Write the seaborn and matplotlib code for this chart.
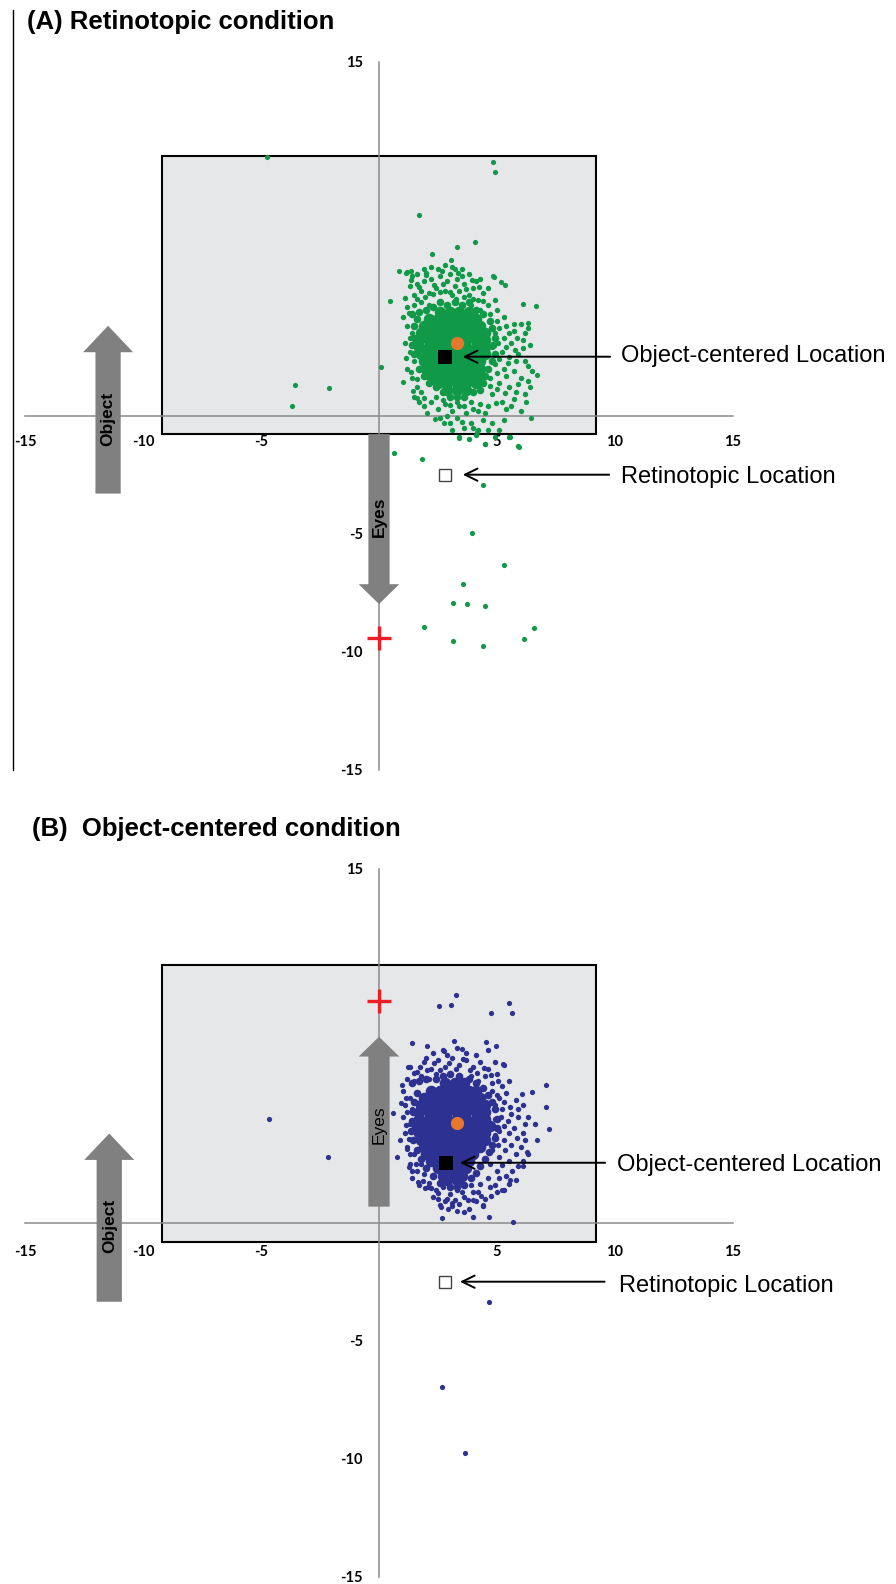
import numpy as np
import matplotlib
matplotlib.use("Agg")
import matplotlib.pyplot as plt
import seaborn as sns
from matplotlib.patches import Rectangle
from matplotlib.lines import Line2D

sns.set_style("white")
plt.rcParams['font.family'] = ['Liberation Sans', 'DejaVu Sans']
plt.rcParams['axes.unicode_minus'] = False
plt.rcParams['text.color'] = 'black'
plt.rcParams['xtick.color'] = 'black'
plt.rcParams['ytick.color'] = 'black'

# ---------------- data (degrees) ----------------
ticks = [-15, -10, -5, 5, 10, 15]
tick_labels = ["-15", "-10", "-5", "5", "10", "15"]

# panel A: retinotopic condition (green)
a_core = np.array([
    (2.6, 4.4), (3.0, 4.4), (3.4, 4.4), (3.8, 4.4),
    (2.1, 4.1), (2.5, 4.1), (2.9, 4.1), (3.3, 4.1), (3.7, 4.1), (4.1, 4.1),
    (1.9, 3.8), (2.3, 3.8), (2.7, 3.8), (3.1, 3.8), (3.5, 3.8), (3.9, 3.8), (4.3, 3.8),
    (1.8, 3.5), (2.2, 3.5), (2.6, 3.5), (3.0, 3.5), (3.4, 3.5), (3.8, 3.5), (4.2, 3.5), (4.5, 3.5),
    (1.7, 3.2), (2.1, 3.2), (2.5, 3.2), (2.9, 3.2), (3.3, 3.2), (3.7, 3.2), (4.1, 3.2), (4.5, 3.2),
    (1.7, 2.9), (2.1, 2.9), (2.5, 2.9), (2.9, 2.9), (3.3, 2.9), (3.7, 2.9), (4.1, 2.9), (4.5, 2.9),
    (1.8, 2.6), (2.2, 2.6), (2.6, 2.6), (3.0, 2.6), (3.4, 2.6), (3.8, 2.6), (4.2, 2.6), (4.5, 2.6),
    (1.9, 2.3), (2.3, 2.3), (2.7, 2.3), (3.1, 2.3), (3.5, 2.3), (3.9, 2.3), (4.3, 2.3),
    (2.0, 2.0), (2.4, 2.0), (2.8, 2.0), (3.2, 2.0), (3.6, 2.0), (4.0, 2.0), (4.3, 2.0),
    (2.2, 1.7), (2.6, 1.7), (3.0, 1.7), (3.4, 1.7), (3.8, 1.7), (4.2, 1.7),
    (2.5, 1.4), (2.9, 1.4), (3.3, 1.4), (3.7, 1.4), (4.1, 1.4),
    (2.9, 1.1), (3.3, 1.1), (3.7, 1.1),
])
a_ring = np.array([
    (1.4, 4.3), (1.7, 4.4), (2.0, 4.5), (2.3, 4.6), (2.6, 4.8), (2.9, 4.7), (3.2, 4.8), (3.5, 4.7),
    (3.8, 4.8), (4.1, 4.5), (4.4, 4.3), (4.7, 4.0), (4.8, 3.7), (4.9, 3.3), (4.85, 3.0), (4.9, 2.6),
    (4.8, 2.3), (4.6, 2.0), (4.5, 1.7), (4.4, 1.4), (4.3, 1.1), (4.0, 1.0), (3.6, 0.8), (3.3, 0.8),
    (3.0, 0.8), (2.7, 1.0), (2.4, 1.2), (2.1, 1.4), (1.9, 1.7), (1.7, 2.0), (1.5, 2.6), (1.4, 3.0),
    (1.5, 3.3), (1.5, 3.8), (1.6, 4.1),
])
a_halo = np.array([
    (1.2, 6.1), (1.4, 5.9), (1.6, 6.0), (1.9, 6.2), (2.2, 6.3), (2.5, 6.2), (2.8, 6.4), (3.1, 6.3),
    (3.5, 6.2), (3.8, 6.0), (4.1, 5.7), (4.3, 5.8),
    (1.3, 5.5), (1.6, 5.6), (1.9, 5.7), (2.2, 5.8), (2.6, 5.9), (2.9, 5.7), (3.3, 5.8), (3.6, 5.6),
    (4.0, 5.4), (4.4, 5.2), (4.6, 5.4),
    (1.1, 5.0), (1.5, 5.1), (1.8, 5.3), (2.1, 5.2), (2.4, 5.4), (2.8, 5.3), (3.1, 5.1), (3.4, 5.3),
    (3.8, 5.1), (4.2, 4.9), (4.6, 4.7), (4.9, 4.9),
    (1.2, 4.6), (1.5, 4.7), (1.8, 4.8), (2.1, 4.7), (3.9, 4.7), (4.3, 4.5), (4.7, 4.3), (5.0, 4.5), (5.3, 4.2),
    (1.35, 5.75), (1.7, 5.45), (2.0, 5.95), (2.35, 5.55), (2.7, 5.6), (3.0, 6.0), (3.2, 5.5), (3.5, 5.9),
    (3.7, 5.35), (3.95, 5.75), (4.25, 5.45), (1.6, 4.95), (1.95, 5.05), (2.3, 5.15), (2.6, 5.25),
    (3.0, 5.25), (3.25, 4.95), (3.6, 5.05), (4.0, 4.95), (4.4, 4.85), (2.0, 6.05), (2.65, 6.15), (3.35, 6.05),
    (5.0, 4.0), (5.4, 3.8), (5.7, 3.6), (6.0, 3.9), (6.3, 3.7), (4.9, 3.5), (5.3, 3.3), (5.6, 3.1),
    (6.1, 3.2), (6.4, 3.0), (4.8, 2.9), (5.2, 2.7), (5.5, 2.5), (5.9, 2.6), (6.2, 2.3), (4.9, 2.2),
    (5.3, 2.0), (5.7, 1.9), (6.0, 1.6), (6.5, 1.9), (4.7, 1.6), (5.1, 1.4), (5.5, 1.2), (5.8, 1.0),
    (6.2, 0.9), (4.8, 0.9), (5.2, 0.6), (5.6, 0.4), (6.0, 0.2),
    (5.1, 3.7), (5.5, 3.5), (5.85, 3.3), (6.2, 3.5), (5.05, 3.1), (5.4, 2.9), (5.75, 2.8), (6.1, 2.85),
    (5.1, 2.4), (5.45, 2.25), (5.8, 2.3), (6.3, 2.1), (5.0, 1.8), (5.4, 1.7), (5.9, 1.35), (6.3, 1.45),
    (5.0, 1.15), (5.35, 0.95), (5.7, 0.7), (4.95, 0.55), (5.4, 0.3), (4.7, 1.25),
    (2.2, 0.6), (2.5, 0.3), (2.8, 0.5), (3.1, 0.2), (3.4, 0.4), (3.7, 0.1), (4.0, 0.3), (4.3, 0.5),
    (4.5, 0.1), (2.6, -0.1), (3.0, -0.3), (3.3, -0.1), (3.6, -0.5), (3.9, -0.3), (4.2, -0.6),
    (4.4, -0.2), (4.8, -0.3), (5.1, -0.6), (3.4, -0.9), (3.8, -1.0), (4.1, -0.8), (4.5, -1.2),
    (5.5, -0.9), (5.9, -1.3),
    (2.4, 0.8), (2.7, 0.65), (3.0, 0.45), (3.3, 0.6), (3.6, 0.4), (3.9, 0.6), (4.2, 0.2), (4.6, 0.4),
    (2.9, 0.0), (3.5, -0.25), (4.0, -0.5), (4.6, -0.6), (5.3, -0.2), (3.1, -0.6), (4.9, -0.9),
    (1.0, 4.2), (1.2, 3.8), (1.4, 3.5), (1.1, 3.1), (1.3, 2.7), (1.5, 2.3), (1.2, 2.0), (1.4, 1.6),
    (1.6, 1.2), (1.5, 0.8), (1.8, 1.0), (1.7, 0.6), (1.9, 0.4),
    (1.25, 4.35), (1.3, 3.3), (1.15, 2.45), (1.35, 1.85), (1.6, 1.55), (1.9, 0.75),
])
a_outliers = np.array([
    (-4.76, 10.96), (4.82, 10.75), (4.93, 10.31), (1.70, 8.49), (3.29, 7.16), (4.08, 7.37),
    (2.23, 6.85), (3.04, 6.60), (0.86, 6.14), (1.14, 6.03), (1.34, 6.12), (3.23, 6.20),
    (4.82, 5.92), (4.89, 5.86), (5.16, 5.68), (5.34, 5.52), (6.11, 4.75), (6.65, 4.65),
    (6.30, 3.94), (5.72, 3.89), (6.71, 1.72), (6.40, 1.23), (6.23, 0.59), (6.45, -0.08),
    (0.47, 4.87), (0.07, 2.08), (-2.12, 1.19), (-3.56, 1.29), (-3.70, 0.42),
    (1.00, 1.44), (1.45, 1.06), (1.60, 0.74), (2.03, 0.10), (2.37, -0.15), (2.75, -0.32),
    (3.40, -0.93), (4.14, -0.68), (4.50, -1.20), (5.95, -1.31), (5.55, -0.92),
    (0.65, -1.59), (1.81, -1.85), (4.39, -2.95), (3.92, -4.96), (5.30, -6.34), (3.55, -7.15),
    (3.12, -7.92), (3.72, -7.99), (4.50, -8.05), (1.91, -8.97), (6.58, -9.01), (6.14, -9.46),
    (3.12, -9.53), (4.40, -9.74),
])
a_object_loc = (2.8, 2.5)
a_mean = (3.29, 3.09)
a_retino_loc = (2.8, -2.5)
a_fixation = (0.0, -9.43)

# panel B: object-centered condition (blue)
b_core = np.array([
    (2.8, 5.9), (3.2, 5.9), (3.6, 5.9),
    (2.2, 5.6), (2.6, 5.6), (3.0, 5.6), (3.4, 5.6), (3.8, 5.6), (4.1, 5.6),
    (1.9, 5.3), (2.3, 5.3), (2.7, 5.3), (3.1, 5.3), (3.5, 5.3), (3.9, 5.3), (4.3, 5.3),
    (1.8, 5.0), (2.2, 5.0), (2.6, 5.0), (3.0, 5.0), (3.4, 5.0), (3.8, 5.0), (4.2, 5.0), (4.5, 5.0),
    (1.7, 4.7), (2.1, 4.7), (2.5, 4.7), (2.9, 4.7), (3.3, 4.7), (3.7, 4.7), (4.1, 4.7), (4.5, 4.7),
    (1.7, 4.4), (2.1, 4.4), (2.5, 4.4), (2.9, 4.4), (3.3, 4.4), (3.7, 4.4), (4.1, 4.4), (4.5, 4.4),
    (1.6, 4.1), (2.0, 4.1), (2.4, 4.1), (2.8, 4.1), (3.2, 4.1), (3.6, 4.1), (4.0, 4.1), (4.4, 4.1), (4.7, 4.1),
    (1.7, 3.8), (2.1, 3.8), (2.5, 3.8), (2.9, 3.8), (3.3, 3.8), (3.7, 3.8), (4.1, 3.8), (4.5, 3.8),
    (1.8, 3.5), (2.2, 3.5), (2.6, 3.5), (3.0, 3.5), (3.4, 3.5), (3.8, 3.5), (4.2, 3.5), (4.5, 3.5),
    (1.9, 3.2), (2.3, 3.2), (2.7, 3.2), (3.1, 3.2), (3.5, 3.2), (3.9, 3.2), (4.3, 3.2),
    (2.0, 2.9), (2.4, 2.9), (2.8, 2.9), (3.2, 2.9), (3.6, 2.9), (4.0, 2.9),
    (2.2, 2.6), (2.6, 2.6), (3.0, 2.6), (3.4, 2.6), (3.8, 2.6),
    (2.5, 2.3), (2.9, 2.3), (3.3, 2.3), (3.7, 2.3),
    (2.7, 2.0), (3.1, 2.0), (3.5, 2.0), (2.9, 1.8), (3.3, 1.8),
])
b_ring = np.array([
    (1.4, 5.9), (1.7, 6.0), (2.0, 6.1), (2.4, 6.1), (2.7, 6.2), (3.0, 6.3), (3.4, 6.2), (3.8, 6.1),
    (4.1, 5.9), (4.4, 5.7), (4.6, 5.4), (4.8, 5.1), (4.9, 4.8), (5.0, 4.4), (5.0, 4.0), (4.9, 3.6),
    (4.8, 3.3), (4.65, 3.0), (4.5, 2.7), (4.3, 2.4), (4.1, 2.1), (3.9, 1.9), (3.6, 1.6), (3.3, 1.5),
    (3.0, 1.5), (2.6, 1.7), (2.3, 2.0), (2.0, 2.3), (1.8, 2.7), (1.6, 3.1), (1.45, 3.5), (1.35, 3.9),
    (1.4, 4.3), (1.45, 4.7), (1.5, 5.1), (1.6, 5.5),
])
b_halo = np.array([
    (1.3, 6.6), (1.6, 6.4), (1.9, 6.8), (2.2, 6.5), (2.5, 6.9), (2.8, 6.6), (3.1, 7.0), (3.4, 6.7),
    (3.7, 6.9), (4.0, 6.6), (4.3, 6.8), (4.6, 6.5), (5.0, 6.3), (5.3, 6.7),
    (1.2, 6.1), (1.5, 6.0), (1.8, 6.2), (2.1, 6.1), (2.4, 6.3), (3.9, 6.2), (4.2, 6.0), (4.5, 6.2),
    (4.8, 5.9), (5.2, 5.8), (5.5, 6.0), (2.7, 7.3), (3.3, 7.4), (4.1, 7.1), (4.6, 7.3), (2.3, 7.2),
    (1.5, 6.35), (1.75, 6.6), (2.05, 6.45), (2.35, 6.75), (2.6, 6.45), (2.95, 6.75), (3.25, 6.5),
    (3.55, 6.95), (3.85, 6.45), (4.15, 6.35), (4.45, 6.55), (4.75, 6.25), (2.0, 7.0), (2.9, 7.1),
    (3.7, 7.2), (4.9, 6.8), (5.05, 6.0),
    (1.0, 5.6), (1.3, 5.3), (1.1, 5.0), (1.4, 4.8), (1.0, 4.5), (1.3, 4.2), (1.1, 3.8), (1.4, 3.5),
    (1.2, 3.2), (1.5, 2.9), (1.3, 2.5), (1.6, 2.2), (1.4, 1.9), (1.8, 2.5), (1.7, 1.6),
    (1.15, 5.3), (1.2, 4.7), (1.15, 4.15), (1.25, 3.55), (1.3, 2.9), (1.4, 2.2), (1.55, 2.5),
    (1.9, 2.05), (1.85, 1.75),
    (4.8, 5.6), (5.1, 5.3), (5.4, 5.5), (5.8, 5.2), (6.1, 5.0), (4.9, 5.0), (5.2, 4.8), (5.6, 4.6),
    (5.9, 4.8), (6.3, 4.5), (6.6, 4.2), (4.9, 4.4), (5.3, 4.1), (5.7, 4.0), (6.1, 3.8), (4.9, 3.7),
    (5.3, 3.5), (5.6, 3.3), (6.0, 3.2), (6.3, 2.9), (4.8, 3.1), (5.1, 2.8), (5.5, 2.6), (5.9, 2.4),
    (4.7, 2.5), (5.0, 2.2), (5.4, 2.0), (5.8, 1.8), (4.6, 1.9), (4.9, 1.6), (5.3, 1.4),
    (5.0, 5.4), (5.3, 5.1), (5.55, 4.9), (5.9, 4.5), (6.2, 4.2), (5.15, 4.5), (5.45, 4.3), (5.1, 3.9),
    (5.5, 3.8), (5.85, 3.6), (6.2, 3.5), (5.05, 3.3), (5.35, 3.1), (5.8, 2.9), (6.1, 2.6), (5.2, 2.45),
    (5.65, 2.2), (5.1, 1.9), (5.5, 1.65), (5.0, 1.3), (4.7, 1.5), (4.75, 1.15),
    (2.1, 1.7), (2.4, 1.4), (2.7, 1.5), (3.0, 1.2), (3.3, 1.4), (3.6, 1.1), (3.9, 1.6), (4.2, 1.3),
    (4.5, 1.0), (2.5, 1.0), (2.8, 0.9), (3.4, 0.8), (3.8, 0.6), (4.1, 0.9), (2.3, 1.1),
    (2.2, 1.45), (2.5, 1.25), (2.9, 1.0), (3.2, 0.95), (3.5, 1.3), (3.75, 0.95), (4.0, 1.3),
    (4.3, 1.65), (4.4, 0.7), (2.6, 0.75), (3.1, 0.7), (3.6, 0.45), (4.0, 0.25),
])
b_outliers = np.array([
    (3.26, 9.65), (2.54, 9.18), (3.05, 9.22), (5.52, 9.32), (4.73, 8.90), (5.62, 8.90),
    (1.40, 7.63), (2.02, 7.50), (3.18, 7.70), (4.53, 7.64), (2.75, 7.29), (3.50, 7.37), (4.96, 7.49),
    (1.24, 6.61), (5.27, 6.72), (7.06, 5.85), (7.08, 4.89), (7.22, 3.98), (6.68, 3.50),
    (6.05, 5.45), (6.47, 5.55), (0.58, 4.63), (0.78, 2.77), (0.93, 5.06), (0.96, 5.82),
    (0.89, 3.50), (1.17, 3.14), (1.26, 2.37), (-4.67, 4.38), (-2.15, 2.77),
    (5.69, 0.02), (4.66, 0.25), (2.68, 0.21), (2.94, 0.57), (3.32, 0.51), (3.08, 0.82),
    (4.42, 0.75), (4.00, 0.96), (4.32, 1.13), (1.95, 1.46), (2.09, 1.53), (1.67, 1.74),
    (5.20, 1.39), (5.55, 1.81), (6.12, 2.40), (6.26, 3.01), (2.61, 0.65),
    (4.64, -3.35), (2.66, -6.95), (3.65, -9.75),
])
b_object_loc = (2.82, 2.54)
b_mean = (3.29, 4.21)
b_retino_loc = (2.8, -2.5)
b_fixation = (0.0, 9.4)

GREEN = "#109A48"
BLUE = "#2C3192"
ORANGE = "#E8772E"
GRAY = "#808080"
PANEL = "#E6E7E8"

fig = plt.figure(figsize=(8.96, 15.84), dpi=100)
W, H = 896, 1584
PX = 23.6  # pixels per degree


def make_axes(origin_y_px, ylo):
    left = 379 - 16 * PX
    bottom = (H - origin_y_px) - (-ylo) * PX
    ax = fig.add_axes([left / W, bottom / H, 32 * PX / W, (16 - ylo) * PX / H])
    ax.set_xlim(-16, 16)
    ax.set_ylim(ylo, 16)
    ax.patch.set_alpha(0)
    for s in ["top", "right"]:
        ax.spines[s].set_visible(False)
    for s in ["left", "bottom"]:
        ax.spines[s].set_position(("data", 0))
        ax.spines[s].set_bounds(-15, 15)
        ax.spines[s].set_color("#8A8A8A")
        ax.spines[s].set_linewidth(1.1)
    ax.set_xticks(ticks)
    ax.set_xticklabels(tick_labels)
    ax.set_yticks(ticks)
    ax.set_yticklabels(tick_labels)
    for lab in ax.get_xticklabels() + ax.get_yticklabels():
        lab.set_fontfamily("Lato")
        lab.set_fontweight("bold")
        lab.set_fontsize(10.5)
    ax.tick_params(axis="both", direction="out", length=4, width=1, color="#8A8A8A",
                   labelcolor="black")
    return ax


def draw_panel(ax, core, ring, halo, outl, color, obj_loc, mean, retino, fix,
               eyes_y0, eyes_y1, eyes_text_y, eyes_weight, obj_x, obj_y0, obj_y1,
               rect, ann):
    ax.add_patch(Rectangle((rect[0], rect[1]), rect[2], rect[3], facecolor=PANEL,
                           edgecolor="black", lw=1.5, zorder=1))
    # big gray arrows
    ax.arrow(0, eyes_y0, 0, eyes_y1 - eyes_y0, width=0.9, head_width=1.72, head_length=0.84,
             length_includes_head=True, color=GRAY, lw=0, zorder=3)
    ax.text(0, eyes_text_y, "Eyes", rotation=90, ha="center", va="center", fontsize=12.5,
            fontweight=eyes_weight, zorder=4)
    ax.arrow(obj_x, obj_y0, 0, obj_y1 - obj_y0, width=1.07, head_width=2.12, head_length=1.12,
             length_includes_head=True, color=GRAY, lw=0, zorder=3)
    ax.text(obj_x, -0.15, "Object", rotation=90, ha="center", va="center", fontsize=12.5,
            fontweight="bold", zorder=4)
    # cloud of endpoints
    sns.scatterplot(x=core[:, 0], y=core[:, 1], ax=ax, color=color, s=70, linewidth=0,
                    legend=False, zorder=4)
    sns.scatterplot(x=ring[:, 0], y=ring[:, 1], ax=ax, color=color, s=30, linewidth=0,
                    legend=False, zorder=4)
    sns.scatterplot(x=halo[:, 0], y=halo[:, 1], ax=ax, color=color, s=15, linewidth=0,
                    legend=False, zorder=4)
    sns.scatterplot(x=outl[:, 0], y=outl[:, 1], ax=ax, color=color, s=14, linewidth=0,
                    legend=False, zorder=4)
    ax.plot(*mean, "o", color=ORANGE, ms=9.5, mew=0, zorder=5)
    ax.plot(*obj_loc, "s", color="black", ms=10, mew=0, zorder=6)
    ax.plot(*retino, "s", mfc="white", mec="#444444", ms=8.5, mew=1, zorder=6)
    ax.plot(*fix, "+", color="#EE1C24", ms=17, mew=2.4, zorder=6)
    # labels with arrows
    for (hx, hy, tx, label_x, label_y, label) in ann:
        ax.annotate("", xy=(hx, hy), xytext=(tx, hy), annotation_clip=False,
                    arrowprops=dict(arrowstyle="->,head_length=0.45,head_width=0.22",
                                    mutation_scale=20, lw=1.4, color="black",
                                    shrinkA=0, shrinkB=0), zorder=6)
        ax.text(label_x, label_y, label, fontsize=17, ha="left", va="baseline",
                clip_on=False, zorder=6)


axA = make_axes(415.7, -16)
axA.tick_params(axis="x", pad=10)
axA.tick_params(axis="y", pad=7.5)
draw_panel(axA, a_core, a_ring, a_halo, a_outliers, GREEN, a_object_loc, a_mean, a_retino_loc,
           a_fixation, -0.78, -7.98, -4.28, "bold", -11.48, -3.3, 3.81,
           (-9.18, -0.77, 18.37, 11.77),
           [(3.55, 2.5, 9.79, 10.24, 2.28, "Object-centered Location"),
            (3.55, -2.5, 9.75, 10.24, -2.84, "Retinotopic Location")])

axB = make_axes(1222.7, -15.2)
axB.tick_params(axis="x", pad=12)
axB.tick_params(axis="y", pad=7.5)
draw_panel(axB, b_core, b_ring, b_halo, b_outliers, BLUE, b_object_loc, b_mean, b_retino_loc,
           b_fixation, 0.68, 7.88, 4.14, "normal", -11.43, -3.35, 3.78,
           (-9.19, -0.8, 18.37, 11.73),
           [(3.43, 2.54, 9.58, 10.07, 2.20, "Object-centered Location"),
            (3.43, -2.5, 9.56, 10.18, -2.92, "Retinotopic Location")])

fig.text(26.7 / W, 1 - 29 / H, "(A) Retinotopic condition", fontsize=18.5,
         fontweight="bold", ha="left", va="baseline")
fig.text(31.7 / W, 1 - 836 / H, "(B)  Object-centered condition", fontsize=18.5,
         fontweight="bold", ha="left", va="baseline")
fig.add_artist(Line2D([13 / W, 13 / W], [1 - 10 / H, 1 - 770 / H], color="black", lw=1))

fig.savefig("out.png", dpi=100)
